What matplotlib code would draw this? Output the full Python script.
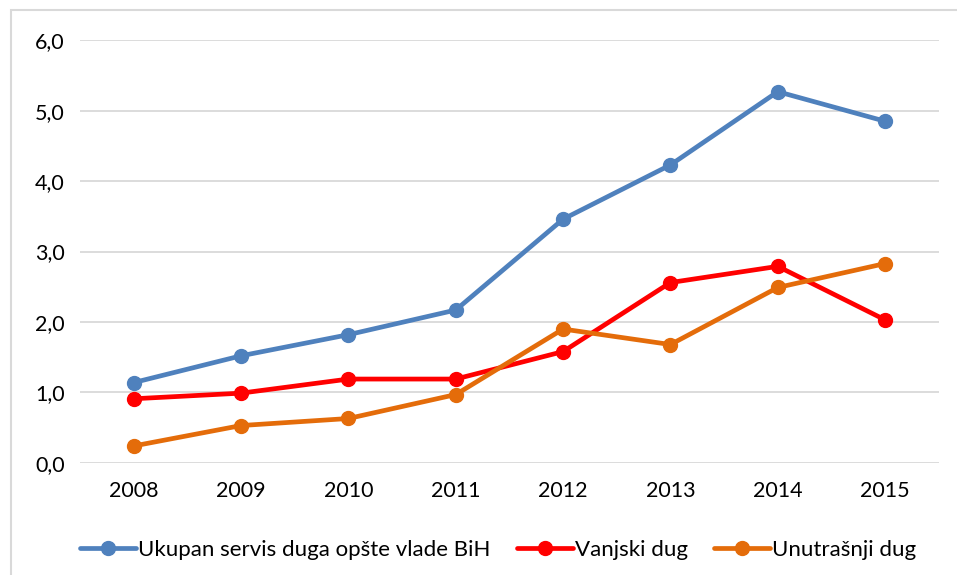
import matplotlib.pyplot as plt
from matplotlib.patches import Rectangle
from matplotlib.ticker import FuncFormatter

plt.rcParams['font.family'] = ['Lato', 'DejaVu Sans']

years = ['2008', '2009', '2010', '2011', '2012', '2013', '2014', '2015']
ukupan = [1.14, 1.52, 1.82, 2.17, 3.46, 4.23, 5.27, 4.85]
vanjski = [0.91, 0.99, 1.19, 1.19, 1.58, 2.56, 2.79, 2.03]
unutrasnji = [0.24, 0.53, 0.63, 0.97, 1.90, 1.68, 2.49, 2.83]

labels = ['Ukupan servis duga opšte vlade BiH', 'Vanjski dug', 'Unutrašnji dug']
colors = ['#4F81BD', '#FF0000', '#E46C0A']

fig = plt.figure(figsize=(9.57, 5.75), dpi=100)
ax = fig.add_axes([0.0836, 0.195, 0.8974, 0.735])

# light frame around the whole chart
fig.patches.append(Rectangle((0.011, -0.01), 1.0, 0.993, transform=fig.transFigure,
                             fill=False, edgecolor='#D9D9D9', linewidth=1.5))

x = range(len(years))
for series, lab, col in zip([ukupan, vanjski, unutrasnji], labels, colors):
    ax.plot(x, series, color=col, linewidth=3.4, marker='o', markersize=10,
            label=lab, solid_capstyle='round', zorder=3)

ax.set_xlim(-0.5, len(years) - 0.5)
ax.set_ylim(0, 6)
ax.set_xticks(list(x))
ax.set_xticklabels(years)
ax.set_yticks(range(7))
ax.yaxis.set_major_formatter(FuncFormatter(lambda v, p: f'{v:.1f}'.replace('.', ',')))
ax.grid(axis='y', color='#D9D9D9', linewidth=1.3)
ax.set_axisbelow(True)
for s in ax.spines.values():
    s.set_visible(False)
ax.tick_params(length=0, labelsize=15.5, colors='#000000')
ax.tick_params(axis='x', pad=13)
ax.tick_params(axis='y', pad=11)

ax.legend(loc='upper center', bbox_to_anchor=(0.487, -0.135), ncol=3, frameon=False,
          fontsize=16, handlelength=2.5, handletextpad=0.1, columnspacing=1.2)

fig.savefig('out.png', dpi=100)
